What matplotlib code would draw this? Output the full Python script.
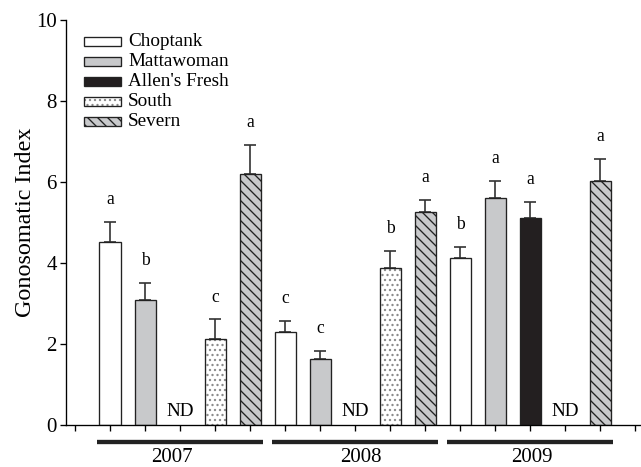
import numpy as np
import matplotlib
matplotlib.use("Agg")
import matplotlib.pyplot as plt
from matplotlib.patches import Rectangle
import matplotlib.transforms as mtransforms

plt.rcParams['font.family'] = ['Liberation Serif', 'DejaVu Serif']
plt.rcParams['hatch.linewidth'] = 0.8

years = ['2007', '2008', '2009']
sites = ['Choptank', 'Mattawoman', "Allen's Fresh", 'South', 'Severn']
means_2007 = [4.53, 3.09, np.nan, 2.12, 6.20]
means_2008 = [2.30, 1.62, np.nan, 3.87, 5.26]
means_2009 = [4.13, 5.61, 5.10, np.nan, 6.02]
se_2007 = [0.49, 0.41, np.nan, 0.49, 0.71]
se_2008 = [0.27, 0.21, np.nan, 0.43, 0.29]
se_2009 = [0.27, 0.42, 0.40, np.nan, 0.55]
letters_2007 = ['a', 'b', '', 'c', 'a']
letters_2008 = ['c', 'c', '', 'b', 'a']
letters_2009 = ['b', 'a', 'a', '', 'a']

means = [means_2007, means_2008, means_2009]
ses = [se_2007, se_2008, se_2009]
letters = [letters_2007, letters_2008, letters_2009]

gray = '#c8c9cb'
facecolors = ['white', gray, '#231f20', 'white', gray]
hatches = [None, None, None, '....', '\\\\\\\\']
hatchcolors = ['#222222', '#222222', '#222222', '#8a8a8a', '#222222']
year_label_shift = [-0.23, 0.17, 0.06]

DPI = 120
fig = plt.figure(figsize=(641 / DPI, 467 / DPI), dpi=DPI)
ax = fig.add_axes([66 / 641, 42 / 467, (641 - 66) / 641, 405 / 467])

bw = 0.6
for i, yr in enumerate(years):
    for j, site in enumerate(sites):
        x = 1 + 5 * i + j
        m = means[i][j]
        if np.isnan(m):
            ax.text(x, 0.33, 'ND', ha='center', va='center', fontsize=11.5)
            continue
        ax.bar(x, m, width=bw, color=facecolors[j], edgecolor=hatchcolors[j],
               linewidth=0, hatch=hatches[j], zorder=2)
        ax.bar(x, m, width=bw, fill=False, edgecolor='#222222',
               linewidth=0.8, zorder=3)
        ax.errorbar(x, m, yerr=[[0], [ses[i][j]]], fmt='none', ecolor='#333333',
                    elinewidth=1.0, capsize=3.6, capthick=1.0, zorder=1)
        ax.text(x, m + ses[i][j] + 0.55, letters[i][j], ha='center', va='center',
                fontsize=10.5)

ax.set_xlim(-0.257, 16.17)
ax.set_ylim(0, 10)
ax.set_xticks(np.arange(0, 17))
ax.set_xticklabels([])
ax.set_yticks([0, 2, 4, 6, 8, 10])
ax.tick_params(axis='both', direction='out', length=3.6, width=0.8, labelsize=12.5)
ax.tick_params(axis='y', pad=2)
for s in ['top', 'right']:
    ax.spines[s].set_visible(False)
for s in ['left', 'bottom']:
    ax.spines[s].set_linewidth(0.8)
ax.set_ylabel('Gonosomatic Index', fontsize=14.5, labelpad=0)

trans = mtransforms.blended_transform_factory(ax.transData, ax.transAxes)
for i, yr in enumerate(years):
    c = 3 + 5 * i
    ax.plot([c - 2.37, c + 2.37], [-0.043, -0.043], color='#222222', lw=2.6,
            transform=trans, clip_on=False, solid_capstyle='butt')
    ax.text(c + year_label_shift[i], -0.081, yr, ha='center', va='center',
            fontsize=12.5, transform=trans)

# legend (manual)
for j, site in enumerate(sites):
    yc = 41.7 + 20.0 * j
    x0, x1 = 84, 121
    h = 8.6
    r = Rectangle((x0 / 641, 1 - (yc + h / 2) / 467), (x1 - x0) / 641, h / 467,
                  transform=fig.transFigure, facecolor=facecolors[j],
                  edgecolor=hatchcolors[j], linewidth=0, hatch=hatches[j])
    fig.patches.append(r)
    r2 = Rectangle((x0 / 641, 1 - (yc + h / 2) / 467), (x1 - x0) / 641, h / 467,
                   transform=fig.transFigure, fill=False,
                   edgecolor='#222222', linewidth=0.8)
    fig.patches.append(r2)
    fig.text(128 / 641, 1 - yc / 467, site, ha='left', va='center', fontsize=11.5)

fig.savefig('out.png', dpi=DPI)
